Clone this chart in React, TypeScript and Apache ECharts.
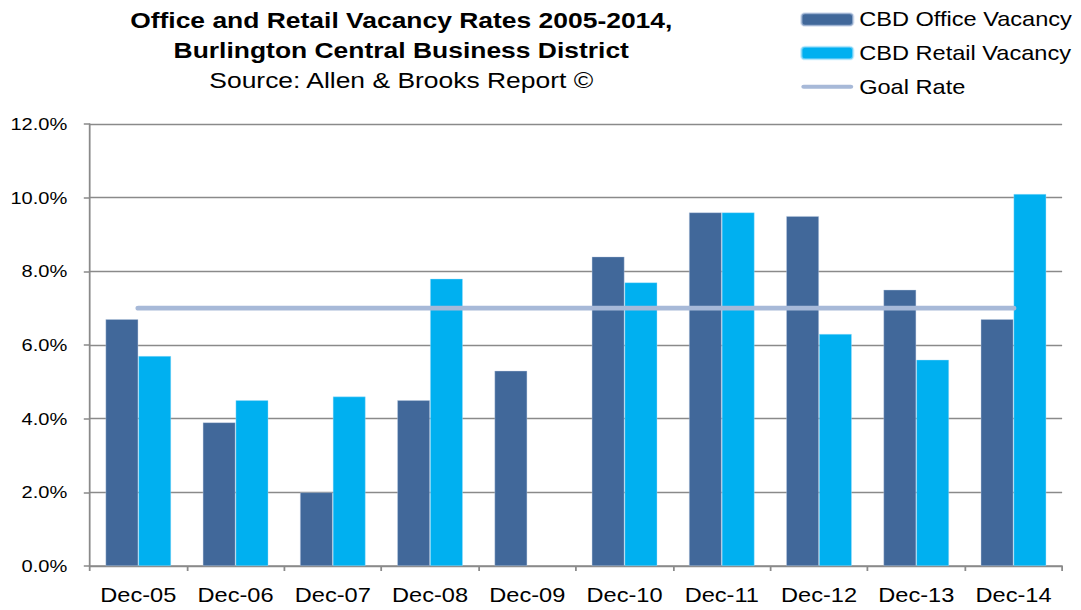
import React, { useEffect, useRef } from "react";
import * as echarts from "echarts";

const categories = ["Dec-05", "Dec-06", "Dec-07", "Dec-08", "Dec-09", "Dec-10", "Dec-11", "Dec-12", "Dec-13", "Dec-14"];
const officeVacancy = [6.7, 3.9, 2.0, 4.5, 5.3, 8.4, 9.6, 9.5, 7.5, 6.7];
const retailVacancy: (number | null)[] = [5.7, 4.5, 4.6, 7.8, null, 7.7, 9.6, 6.3, 5.6, 10.1];
const goalRate = [7, 7, 7, 7, 7, 7, 7, 7, 7, 7];
const titleLines = [
  "Office and Retail Vacancy Rates 2005-2014,",
  "Burlington Central Business District",
  "Source: Allen & Brooks Report ©",
];
const seriesNames = ["CBD Office Vacancy", "CBD Retail Vacancy", "Goal Rate"];

const STRETCH = 1081 / 916;
const FONT = "'Liberation Sans', Arial, Helvetica, sans-serif";
const LINE_ICON = "path://M5,0 L105,0 A5,5 0 0 1 105,10 L5,10 A5,5 0 0 1 5,0 Z";

export default function App() {
  const ref = useRef<HTMLDivElement>(null);
  useEffect(() => {
    if (!ref.current) return;
    const chart = echarts.init(ref.current, undefined, { renderer: "svg" });
    chart.setOption({
      animation: false,
      textStyle: { fontFamily: FONT },
      graphic: [
        {
          type: "text",
          x: 340,
          y: 20,
          style: {
            text: titleLines[0],
            textAlign: "center",
            textVerticalAlign: "middle",
            font: `bold 22.4px ${FONT}`,
            fill: "#000",
          },
        },
        {
          type: "text",
          x: 340,
          y: 50.5,
          style: {
            text: titleLines[1],
            textAlign: "center",
            textVerticalAlign: "middle",
            font: `bold 22.4px ${FONT}`,
            fill: "#000",
          },
        },
        {
          type: "text",
          x: 340,
          y: 80.5,
          style: {
            text: titleLines[2],
            textAlign: "center",
            textVerticalAlign: "middle",
            font: `normal 22.4px ${FONT}`,
            fill: "#000",
          },
        },
      ],
      legend: {
        orient: "vertical",
        left: 678,
        top: 9.5,
        padding: 0,
        itemGap: 13.6,
        itemWidth: 44,
        itemHeight: 12.5,
        textStyle: { fontSize: 20, color: "#000", fontFamily: FONT },
        data: [
          { name: seriesNames[0] },
          { name: seriesNames[1] },
          { name: seriesNames[2], icon: LINE_ICON },
        ],
      },
      grid: { left: 76, right: 16, top: 124, bottom: 44, containLabel: false },
      xAxis: {
        type: "category",
        data: categories,
        boundaryGap: true,
        axisLine: { lineStyle: { color: "#8a8a8a", width: 1.5 } },
        axisTick: { show: true, length: 5, interval: 0, lineStyle: { color: "#8a8a8a", width: 1.5 } },
        axisLabel: { color: "#000", fontSize: 20, margin: 19, interval: 0, fontFamily: FONT },
      },
      yAxis: {
        type: "value",
        min: 0,
        max: 12,
        interval: 2,
        axisLine: { show: true, lineStyle: { color: "#8a8a8a", width: 1.5 } },
        axisTick: { show: true, length: 5, lineStyle: { color: "#8a8a8a", width: 1.5 } },
        splitLine: { lineStyle: { color: "#8a8a8a", width: 1.3 } },
        axisLabel: {
          color: "#000",
          fontSize: 17,
          margin: 19,
          fontFamily: FONT,
          formatter: (v: number) => v.toFixed(1) + "%",
        },
      },
      series: [
        {
          name: seriesNames[0],
          type: "bar",
          data: officeVacancy,
          barGap: "0%",
          barCategoryGap: "32.5%",
          itemStyle: { color: "#41689A", borderColor: "rgba(190,205,230,0.6)", borderWidth: 0.6 },
        },
        {
          name: seriesNames[1],
          type: "bar",
          data: retailVacancy,
          barGap: "0%",
          barCategoryGap: "32.5%",
          itemStyle: { color: "#00B0F0", borderColor: "rgba(170,225,250,0.6)", borderWidth: 0.6 },
        },
        {
          name: seriesNames[2],
          type: "line",
          data: goalRate,
          symbol: "none",
          z: 5,
          lineStyle: { color: "#A7B9D8", width: 4.8, cap: "round" },
          itemStyle: { color: "#A7B9D8" },
        },
      ],
    });
    return () => chart.dispose();
  }, []);
  return (
    <div
      style={{
        position: "absolute",
        left: 0,
        top: 0,
        width: 1081,
        height: 610,
        overflow: "hidden",
        background: "#fff",
      }}
    >
      <div
        ref={ref}
        style={{
          width: 916,
          height: 610,
          transform: `scaleX(${STRETCH})`,
          transformOrigin: "0 0",
        }}
      />
    </div>
  );
}
